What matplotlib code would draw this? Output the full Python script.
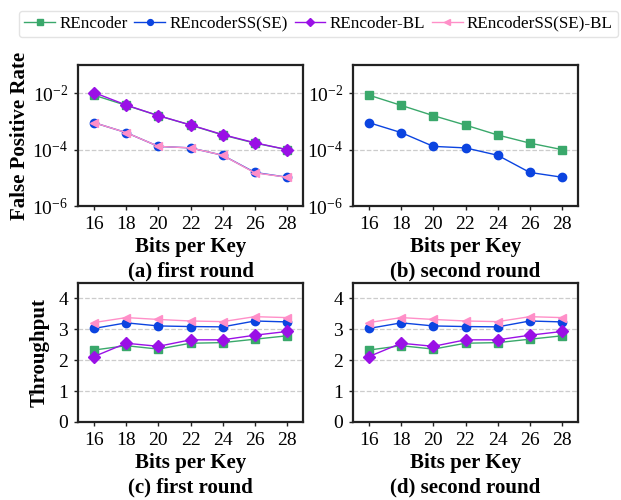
import matplotlib
matplotlib.use("Agg")
import matplotlib.pyplot as plt

bits = [16, 18, 20, 22, 24, 26, 28]

# false positive rate
fpr_re = [8.5e-3, 3.7e-3, 1.6e-3, 7.4e-4, 3.3e-4, 1.7e-4, 1.0e-4]
fpr_re_bl = [1.05e-2, 3.8e-3, 1.6e-3, 7.5e-4, 3.4e-4, 1.75e-4, 1.0e-4]
fpr_ss = [9.0e-4, 4.0e-4, 1.3e-4, 1.15e-4, 6.3e-5, 1.55e-5, 1.05e-5]
fpr_ss_bl = [9.0e-4, 4.0e-4, 1.3e-4, 1.15e-4, 6.3e-5, 1.5e-5, 1.05e-5]

# throughput
tp_re = [2.33, 2.47, 2.36, 2.55, 2.57, 2.68, 2.79]
tp_ss = [3.03, 3.21, 3.11, 3.09, 3.08, 3.27, 3.24]
tp_re_bl = [2.12, 2.55, 2.45, 2.66, 2.66, 2.81, 2.93]
tp_ss_bl = [3.22, 3.38, 3.32, 3.27, 3.25, 3.41, 3.38]

names = ["REncoder", "REncoderSS(SE)", "REncoder-BL", "REncoderSS(SE)-BL"]
colors = ["#3aa86b", "#0b44e0", "#9a10e6", "#ff8fc8"]
markers = ["s", "o", "D", "<"]

plt.rcParams["font.family"] = ["Liberation Serif", "DejaVu Serif"]
plt.rcParams["mathtext.fontset"] = "stix"

fig = plt.figure(figsize=(6.21, 5.0), dpi=100)
W, H = 621, 500


def make_ax(l, t, r, b):
    return fig.add_axes([l / W, 1 - b / H, (r - l) / W, (b - t) / H])


ax_a = make_ax(78, 65, 303, 206)
ax_b = make_ax(353, 65, 578, 206)
ax_c = make_ax(78, 283, 303, 422)
ax_d = make_ax(353, 283, 578, 422)


def style(ax, caption):
    ax.set_xlim(15, 29)
    ax.set_xticks(bits)
    ax.tick_params(labelsize=14, length=3, width=1, color="#222222", pad=4)
    for sp in ax.spines.values():
        sp.set_linewidth(1.6)
        sp.set_color("#222222")
    ax.grid(axis="y", linestyle="--", color="#cccccc", linewidth=0.9)
    ax.set_axisbelow(True)
    ax.set_xlabel("Bits per Key\n" + caption, fontsize=15, fontweight="bold",
                  linespacing=1.3, labelpad=3)


def plot_lines(ax, series, which):
    for i in which:
        ax.plot(bits, series[i], color=colors[i], marker=markers[i],
                markersize=6, linewidth=1.0, label=names[i])


fpr = [fpr_re, fpr_ss, fpr_re_bl, fpr_ss_bl]
tp = [tp_re, tp_ss, tp_re_bl, tp_ss_bl]

plot_lines(ax_a, fpr, [0, 1, 2, 3])
plot_lines(ax_b, fpr, [0, 1])
plot_lines(ax_c, tp, [0, 1, 2, 3])
plot_lines(ax_d, tp, [0, 1, 2, 3])

for ax in (ax_a, ax_b):
    ax.set_yscale("log")
    ax.set_ylim(1e-6, 1e-1)
    ax.set_yticks([1e-6, 1e-4, 1e-2])
    ax.yaxis.set_minor_locator(matplotlib.ticker.NullLocator())

for ax in (ax_c, ax_d):
    ax.set_ylim(0, 4.5)
    ax.set_yticks([0, 1, 2, 3, 4])

style(ax_a, "(a) first round")
style(ax_b, "(b) second round")
style(ax_c, "(c) first round")
style(ax_d, "(d) second round")

ax_a.set_ylabel("False Positive Rate", fontsize=15, fontweight="bold", labelpad=2)
ax_c.set_ylabel("Throughput", fontsize=15, fontweight="bold", labelpad=6)

handles, labels = ax_a.get_legend_handles_labels()
fig.legend(handles, labels, loc="lower left",
           bbox_to_anchor=(19 / W, 1 - 37 / H, 599 / W, 30 / H), mode="expand",
           ncol=4, fontsize=12.3, frameon=True, handlelength=1.8,
           handletextpad=0.25, columnspacing=0.4, markerscale=0.7,
           edgecolor="#dddddd", borderpad=0.3, borderaxespad=0)

fig.savefig("out.png", dpi=100)
